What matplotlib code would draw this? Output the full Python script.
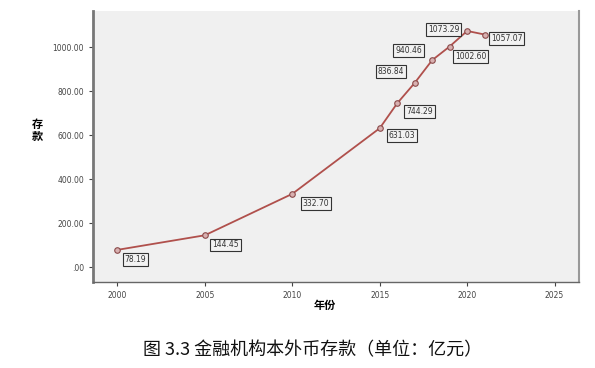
import matplotlib.pyplot as plt

plt.rcParams['font.family'] = ['Noto Sans CJK SC', 'DejaVu Sans']

years = [2000, 2005, 2010, 2015, 2016, 2017, 2018, 2019, 2020, 2021]
deposits = [78.19, 144.45, 332.70, 631.03, 744.29, 836.84, 940.46, 1002.60, 1073.29, 1057.07]
# label offsets in points (dx, dy) relative to each marker
offsets = [(13, -7), (15, -7), (17, -7), (16, -5), (16, -6),
           (-17, 8), (-17, 7), (15, -7), (-17, 1), (16, -3)]

yticks = [0, 200, 400, 600, 800, 1000]
ytick_labels = ['.00', '200.00', '400.00', '600.00', '800.00', '1000.00']
xticks = [2000, 2005, 2010, 2015, 2020, 2025]

fig = plt.figure(figsize=(5.95, 3.68), dpi=100)
ax = fig.add_axes([93 / 595, 1 - 282 / 368, (579 - 93) / 595, (282 - 11) / 368])
ax.set_facecolor('#f0f0f0')

ax.plot(years, deposits, color='#b0504c', lw=1.3, marker='o', ms=4,
        mfc='#d8b0b0', mec='#8a4a4a', mew=0.8, zorder=3)

for x, y, (dx, dy) in zip(years, deposits, offsets):
    ax.annotate(f'{y:.2f}', (x, y), xytext=(dx, dy), textcoords='offset points',
                ha='center', va='center', fontsize=5.5, family='DejaVu Sans', color='#333333',
                bbox=dict(boxstyle='square,pad=0.25', fc='#f2f2f2', ec='#333333', lw=0.8),
                zorder=4)

ax.set_xlim(1998.6, 2026.4)
ax.set_ylim(-68, 1164)
ax.set_xticks(xticks)
ax.set_yticks(yticks)
ax.set_yticklabels(ytick_labels)
ax.tick_params(labelsize=5.5, colors='#444444', length=3, width=0.8)
for lab in ax.get_xticklabels() + ax.get_yticklabels():
    lab.set_family('DejaVu Sans')

ax.spines['top'].set_visible(False)
ax.spines['left'].set_color('#777777')
ax.spines['left'].set_linewidth(2)
ax.spines['right'].set_color('#999999')
ax.spines['right'].set_linewidth(1.5)
ax.spines['bottom'].set_color('#666666')
ax.spines['bottom'].set_linewidth(1)

fig.text(37 / 595, 1 - 130 / 368, '存\n款', fontsize=8, ha='center', va='center',
         linespacing=0.9, weight='bold')
fig.text(325 / 595, 1 - 305 / 368, '年份', fontsize=8, ha='center', va='center', weight='bold')
fig.text(313 / 595, 1 - 350 / 368, '图 3.3 金融机构本外币存款（单位：亿元）', fontsize=13,
         ha='center', va='center', color='#111111')

fig.savefig('out.png', dpi=100)
